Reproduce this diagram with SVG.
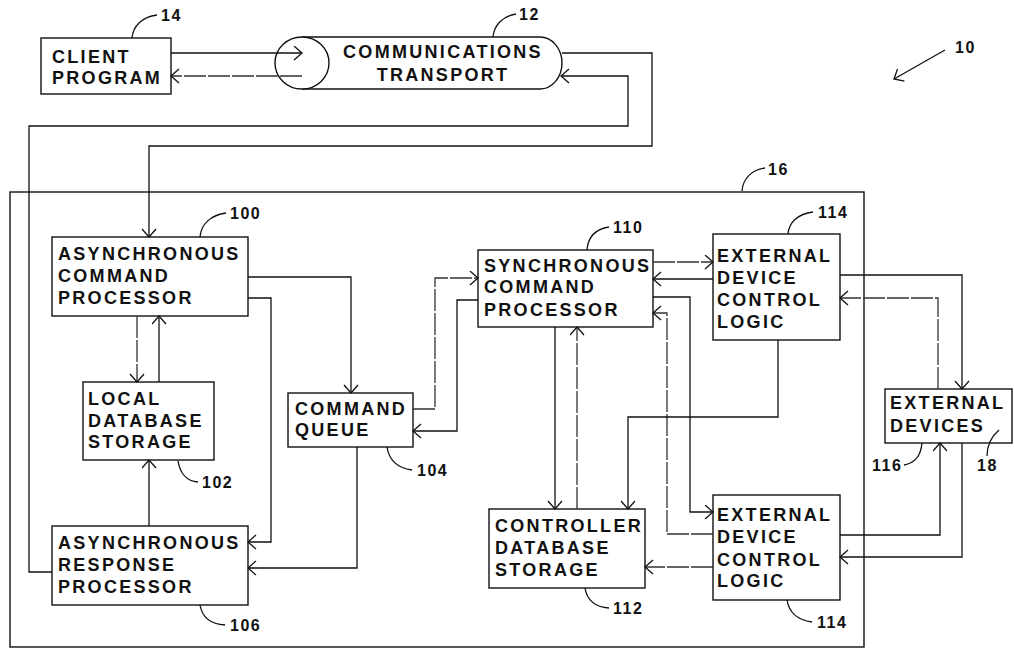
<svg xmlns="http://www.w3.org/2000/svg" width="1014" height="650" viewBox="0 0 1014 650">
<style>
.box{fill:#fff;stroke:#111;stroke-width:1.4}
.t{font-family:"Liberation Sans",Arial,sans-serif;font-weight:bold;font-size:18px;letter-spacing:2.3px;fill:#111}
.lbl{font-family:"Liberation Sans",Arial,sans-serif;font-weight:bold;font-size:16px;letter-spacing:1.5px;fill:#111}
.ln{fill:none;stroke:#111;stroke-width:1.3;marker-end:url(#ah)}
.fd{stroke:#333;stroke-dasharray:22 2}
.hk{fill:none;stroke:#111;stroke-width:1.3}
</style>
<defs>
<marker id="ah" markerUnits="userSpaceOnUse" markerWidth="12" markerHeight="16" refX="9" refY="7.5" orient="auto">
<path d="M1,0.5 L9,7.5 L1,14.5" fill="none" stroke="#111" stroke-width="1.3"/>
</marker>
</defs>

<g id="outer-16">
<rect x="10" y="192" width="854" height="455" fill="none" stroke="#111" stroke-width="1.4"/>
<path class="hk" d="M742,191 C743,178 752,170 765,168"/>
<text class="lbl" x="768" y="175">16</text>
</g>

<g id="system-10">
<line x1="945" y1="50" x2="894" y2="79" class="ln"/>
<text class="lbl" x="955" y="53">10</text>
</g>

<g id="client-program">
<rect class="box" x="41" y="38" width="130" height="56"/>
<text class="t" x="52" y="63">CLIENT</text>
<text class="t" x="52" y="84">PROGRAM</text>
<path class="hk" d="M132,38 C133,26 142,17 157,15"/>
<text class="lbl" x="161" y="21">14</text>
</g>

<g id="communications-transport">
<path class="box" d="M302,37 H540 A22,26 0 0 1 540,89 H302"/>
<ellipse cx="302" cy="63" rx="27" ry="26" fill="#fff" stroke="#111" stroke-width="1.4"/>
<text class="t" x="443" y="58" text-anchor="middle">COMMUNICATIONS</text>
<text class="t" x="443" y="81" text-anchor="middle">TRANSPORT</text>
<path class="hk" d="M493,37 C494,25 503,16 516,14"/>
<text class="lbl" x="519" y="20">12</text>
</g>

<g id="async-command-processor">
<rect class="box" x="52" y="237" width="196" height="79"/>
<text class="t" x="58" y="260">ASYNCHRONOUS</text>
<text class="t" x="58" y="282">COMMAND</text>
<text class="t" x="58" y="304">PROCESSOR</text>
<path class="hk" d="M200,237 C201,224 211,215 226,213"/>
<text class="lbl" x="230" y="219">100</text>
</g>

<g id="local-database-storage">
<rect class="box" x="83" y="382" width="131" height="78"/>
<text class="t" x="88" y="405">LOCAL</text>
<text class="t" x="88" y="427">DATABASE</text>
<text class="t" x="88" y="448">STORAGE</text>
<path class="hk" d="M178,461 C180,473 186,481 198,482"/>
<text class="lbl" x="202" y="488">102</text>
</g>

<g id="async-response-processor">
<rect class="box" x="52" y="526" width="196" height="79"/>
<text class="t" x="58" y="549">ASYNCHRONOUS</text>
<text class="t" x="58" y="571">RESPONSE</text>
<text class="t" x="58" y="593">PROCESSOR</text>
<path class="hk" d="M200,605 C202,617 210,624 225,625"/>
<text class="lbl" x="230" y="631">106</text>
</g>

<g id="command-queue">
<rect class="box" x="288" y="393" width="125" height="54"/>
<text class="t" x="295" y="415">COMMAND</text>
<text class="t" x="295" y="436">QUEUE</text>
<path class="hk" d="M387,447 C389,460 397,468 412,470"/>
<text class="lbl" x="417" y="476">104</text>
</g>

<g id="sync-command-processor">
<rect class="box" x="478" y="250" width="175" height="77"/>
<text class="t" x="484" y="272">SYNCHRONOUS</text>
<text class="t" x="484" y="293">COMMAND</text>
<text class="t" x="484" y="316">PROCESSOR</text>
<path class="hk" d="M587,250 C588,237 596,229 609,227"/>
<text class="lbl" x="613" y="233">110</text>
</g>

<g id="controller-database-storage">
<rect class="box" x="489" y="509" width="156" height="79"/>
<text class="t" x="495" y="532">CONTROLLER</text>
<text class="t" x="495" y="554">DATABASE</text>
<text class="t" x="495" y="576">STORAGE</text>
<path class="hk" d="M585,588 C587,600 594,607 609,608"/>
<text class="lbl" x="613" y="614">112</text>
</g>

<g id="external-device-control-logic-1">
<rect class="box" x="713" y="234" width="127" height="106"/>
<text class="t" x="717" y="262">EXTERNAL</text>
<text class="t" x="717" y="284">DEVICE</text>
<text class="t" x="717" y="306">CONTROL</text>
<text class="t" x="717" y="328">LOGIC</text>
<path class="hk" d="M788,234 C789,222 798,214 813,212"/>
<text class="lbl" x="818" y="218">114</text>
</g>

<g id="external-device-control-logic-2">
<rect class="box" x="713" y="495" width="127" height="105"/>
<text class="t" x="717" y="521">EXTERNAL</text>
<text class="t" x="717" y="543">DEVICE</text>
<text class="t" x="717" y="566">CONTROL</text>
<text class="t" x="717" y="587">LOGIC</text>
<path class="hk" d="M787,600 C789,612 797,620 812,622"/>
<text class="lbl" x="817" y="628">114</text>
</g>

<g id="external-devices">
<rect class="box" x="885" y="389" width="127" height="54"/>
<text class="t" x="890" y="409">EXTERNAL</text>
<text class="t" x="890" y="432">DEVICES</text>
<path class="hk" d="M904,465 C915,463 921,455 922,443"/>
<text class="lbl" x="872" y="471">116</text>
<path class="hk" d="M987,456 C987,444 992,436 999,430"/>
<text class="lbl" x="977" y="471">18</text>
</g>

<g id="connectors">
<path class="ln" d="M171,53 H302"/>
<path class="ln fd" d="M302,76 H171"/>
<path class="ln" d="M562,53 H652 V146 H149 V237"/>
<path class="ln" d="M52,572 H29 V126 H628 V76 H561"/>
<path class="ln" d="M248,277 H351 V393"/>
<path class="ln" d="M248,298 H271 V542 H248"/>
<path class="ln fd" d="M137,316 V382"/>
<path class="ln" d="M159,382 V316"/>
<path class="ln" d="M149,526 V460"/>
<path class="ln" d="M357,447 V568 H248"/>
<path class="ln fd" d="M413,409 H435 V278 H478"/>
<path class="ln" d="M478,300 H457 V431 H413"/>
<path class="ln fd" d="M653,262 H713"/>
<path class="ln" d="M713,279 H653"/>
<path class="ln" d="M653,297 H690 V512 H713"/>
<path class="ln fd" d="M713,534 H667 V313 H653"/>
<path class="ln" d="M555,327 V509"/>
<path class="ln fd" d="M577,509 V327"/>
<path class="ln" d="M778,340 V417 H628 V509"/>
<path class="ln fd" d="M713,567 H645"/>
<path class="ln" d="M840,275 H962 V389"/>
<path class="ln fd" d="M938,389 V298 H840"/>
<path class="ln" d="M840,535 H940 V443"/>
<path class="ln" d="M962,443 V557 H840"/>
</g>
</svg>
